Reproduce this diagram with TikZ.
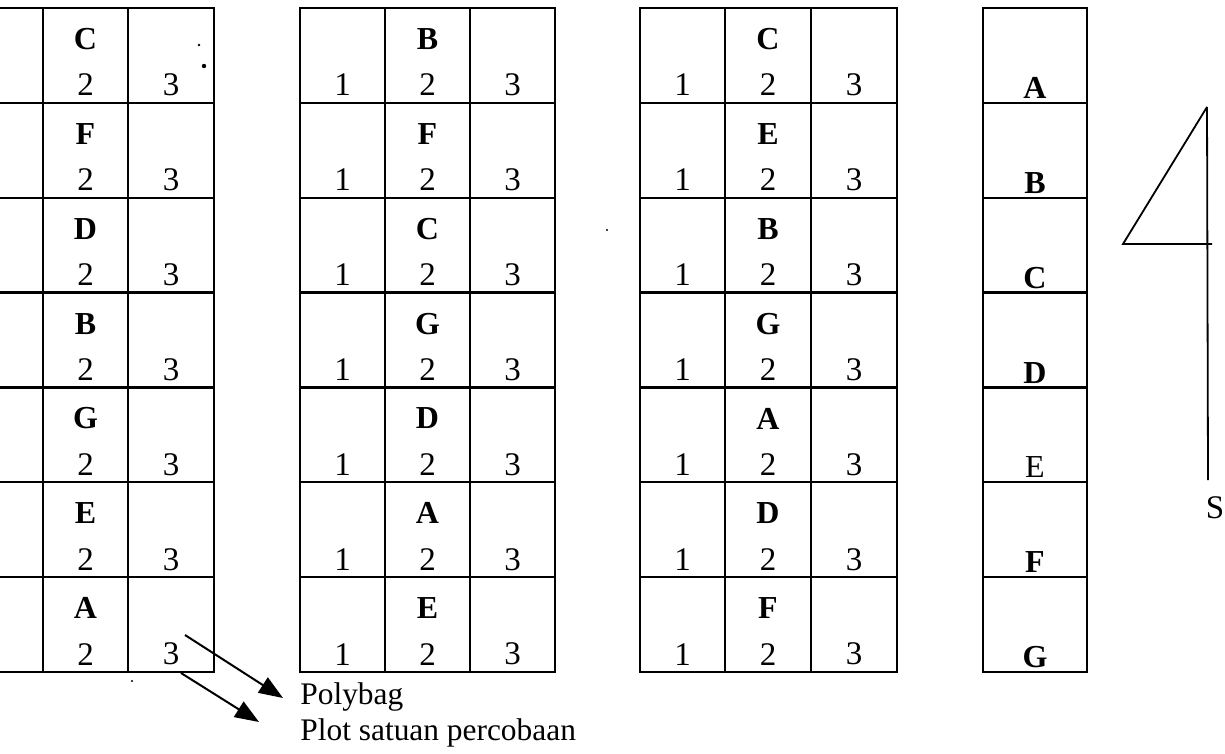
\documentclass[tikz,border=0pt]{standalone}
\usepackage{fontspec}
\setmainfont{Liberation Serif}
\usetikzlibrary{arrows.meta}
\begin{document}
\begin{tikzpicture}[x=0.5pt,y=-0.5pt,
  gridline/.style={line width=1.1pt, line cap=rect},
  lbl/.style={font=\fontsize{16}{18}\selectfont\bfseries, inner sep=0pt},
  num/.style={font=\fontsize{16.5}{18}\selectfont, inner sep=0pt},
  note/.style={font=\fontsize{15.7}{18}\selectfont, inner sep=0pt, anchor=west},
  pointer/.style={line width=1pt, -{Triangle[length=12pt,width=9pt]}},
  compass/.style={line width=0.9pt}]
\useasboundingbox (0,0) rectangle (1225,754);
\fill[white] (0,0) rectangle (1225,754);
\def\rh{94.86}
% ---- block 1 (left column cut off by the page edge)
\foreach \i in {0,...,7} \draw[gridline] (0,{8+\i*\rh}) -- (214,{8+\i*\rh});
\foreach \x in {43,128,214} \draw[gridline] (\x,8) -- (\x,672);
\foreach \L [count=\k from 0] in {C,F,D,B,G,E,A} {
  \node[lbl] (ba\k) at (85.5,{8+\k*\rh+31}) {\L};
  \node[num] (ba\k b) at (85.5,{8+\k*\rh+77}) {2};
  \node[num] (ba\k c) at (171,{8+\k*\rh+77}) {3};
}
% ---- block 2
\foreach \i in {0,...,7} \draw[gridline] (300,{8+\i*\rh}) -- (555,{8+\i*\rh});
\foreach \x in {300,385,470,555} \draw[gridline] (\x,8) -- (\x,672);
\foreach \L [count=\k from 0] in {B,F,C,G,D,A,E} {
  \node[lbl] (bb\k) at (427.5,{8+\k*\rh+31}) {\L};
  \node[num] (bb\k a) at (342.5,{8+\k*\rh+77}) {1};
  \node[num] (bb\k b) at (427.5,{8+\k*\rh+77}) {2};
  \node[num] (bb\k c) at (512.5,{8+\k*\rh+77}) {3};
}
% ---- block 3
\foreach \i in {0,...,7} \draw[gridline] (640,{8+\i*\rh}) -- (897,{8+\i*\rh});
\foreach \x in {640,725,811,897} \draw[gridline] (\x,8) -- (\x,672);
\foreach \L [count=\k from 0] in {C,E,B,G,A,D,F} {
  \node[lbl] (bc\k) at (768,{8+\k*\rh+31}) {\L};
  \node[num] (bc\k a) at (682.5,{8+\k*\rh+77}) {1};
  \node[num] (bc\k b) at (768,{8+\k*\rh+77}) {2};
  \node[num] (bc\k c) at (854,{8+\k*\rh+77}) {3};
}
% ---- block 4
\foreach \i in {0,...,7} \draw[gridline] (983,{8+\i*\rh}) -- (1087,{8+\i*\rh});
\foreach \x in {983,1087} \draw[gridline] (\x,8) -- (\x,672);
\foreach \L/\w [count=\k from 0] in {A/\bfseries,B/\bfseries,C/\bfseries,D/\bfseries,E/\mdseries,F/\bfseries,G/\bfseries} {
  \node[lbl] (bd\k) at (1035,{8+\k*\rh+80}) {\w\L};
}
% ---- compass
\coordinate (ctop) at (1207,107);
\coordinate (cleft) at (1123,244);
\coordinate (cright) at (1212,244);
\coordinate (cbot) at (1208,480);
\draw[compass] (ctop) -- (cbot);
\draw[compass, line join=miter] (ctop) -- (cleft) -- (cright);
\node[num] (south) at (1215,508) {S};
% ---- legend
\node[note] (poly) at (300,697) {Polybag};
\node[note] (plot) at (300,733) {Plot satuan percobaan};
\coordinate (a1s) at (185,635);
\coordinate (a1e) at (283,698);
\coordinate (a2s) at (181,673);
\coordinate (a2e) at (259,722);
\draw[pointer] (a1s) -- (a1e);
\draw[pointer] (a2s) -- (a2e);
% ---- scan specks
\fill (199,45) circle (0.7pt);
\fill (204,66) circle (1.1pt);
\fill (607,230) circle (0.6pt);
\fill (132,681) circle (0.6pt);
\end{tikzpicture}
\end{document}
